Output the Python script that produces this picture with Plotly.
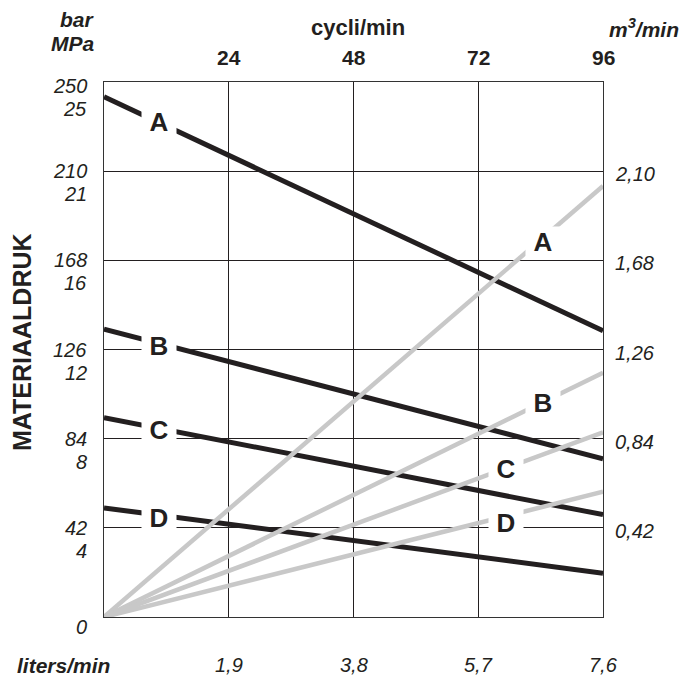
import plotly.graph_objects as go

# ---- data ----
cycles = [0, 96]                       # cycli/min
curves = ["A", "B", "C", "D"]
pressure_start = [245, 135.6, 93.9, 51.4]   # bar at 0 cycli/min
pressure_end = [134.8, 74.5, 48.2, 20.6]    # bar at 96 cycli/min
flow_end = [2.03, 1.15, 0.87, 0.59]         # m3/min at 96 cycli/min

cycle_ticks = [24, 48, 72, 96]
liters_labels = ["1,9", "3,8", "5,7", "7,6"]
bar_ticks = [42, 84, 126, 168, 210, 252]
bar_labels = ["42", "84", "126", "168", "210", "250"]
mpa_labels = ["4", "8", "12", "16", "21", "25"]
m3_ticks = [0.42, 0.84, 1.26, 1.68, 2.10]
m3_labels = ["0,42", "0,84", "1,26", "1,68", "2,10"]

# label positions (cycli/min, bar) for curve letters
pressure_label_x = [10.6, 10.6, 10.6, 10.6]
pressure_label_y = [233, 127.6, 87.9, 46.8]
flow_label_x = [84.4, 84.4, 77.3, 77.3]
flow_label_y = [176.7, 101, 69.5, 44.4]

BLACK = "#231f20"
GRAY = "#c8c8c8"
FONT = "Liberation Sans, Arial, Helvetica, sans-serif"

fig = go.Figure()

for i, c in enumerate(curves):
    fig.add_trace(go.Scatter(x=[0, 96], y=[0, flow_end[i]], mode="lines",
                             line=dict(color=GRAY, width=4.5), yaxis="y2",
                             showlegend=False, hoverinfo="skip"))
for i, c in enumerate(curves):
    fig.add_trace(go.Scatter(x=cycles, y=[pressure_start[i], pressure_end[i]], mode="lines",
                             line=dict(color=BLACK, width=5),
                             showlegend=False, hoverinfo="skip"))

ann = []
# curve letters
for i, c in enumerate(curves):
    for lx, ly in ((pressure_label_x[i], pressure_label_y[i]), (flow_label_x[i], flow_label_y[i])):
        ann.append(dict(x=lx, y=ly, xref="x", yref="y", text="<b>%s</b>" % c, showarrow=False,
                        font=dict(size=26, color=BLACK, family=FONT), bgcolor="white",
                        width=34, height=30, borderpad=0, xanchor="center", yanchor="middle"))

# left axis labels (bar / MPa)
for v, b, m in zip(bar_ticks, bar_labels, mpa_labels):
    yv = 250 if v == 252 else v
    ann.append(dict(x=0, y=yv, xref="x", yref="y", text="<i>%s</i>" % b, showarrow=False,
                    xanchor="right", yanchor="middle", xshift=-15,
                    font=dict(size=20, color=BLACK, family=FONT)))
    ann.append(dict(x=0, y=yv, xref="x", yref="y", text="<i>%s</i>" % m, showarrow=False,
                    xanchor="right", yanchor="middle", xshift=-15, yshift=-23,
                    font=dict(size=20, color=BLACK, family=FONT)))
ann.append(dict(x=0, y=0, xref="x", yref="y", text="<i>0</i>", showarrow=False,
                xanchor="right", yanchor="middle", xshift=-15, yshift=-10,
                font=dict(size=20, color=BLACK, family=FONT)))

# right axis labels (m3/min)
for v, t in zip(m3_ticks, m3_labels):
    ann.append(dict(x=96, y=v, xref="x", yref="y2", text="<i>%s</i>" % t, showarrow=False,
                    xanchor="left", yanchor="middle", xshift=10, yshift=-3,
                    font=dict(size=20, color=BLACK, family=FONT)))

# top axis labels (cycli/min)
for v in cycle_ticks:
    ann.append(dict(x=v, y=1, xref="x", yref="paper", text="<b>%d</b>" % v, showarrow=False,
                    xanchor="center", yanchor="middle", yshift=25,
                    font=dict(size=21, color=BLACK, family=FONT)))
# bottom labels (liters/min)
for v, t in zip(cycle_ticks, liters_labels):
    ann.append(dict(x=v, y=0, xref="x", yref="paper", text="<i>%s</i>" % t, showarrow=False,
                    xanchor="center", yanchor="middle", yshift=-48,
                    font=dict(size=20, color=BLACK, family=FONT)))

# titles: (text, x px, y px, xanchor, font size)
titles = [
    ("<b>cycli/min</b>", 358, 28, "center", 22, 0),
    ("<b><i>bar</i></b>", 97, 20, "right", 21, 0),
    ("<b><i>MPa</i></b>", 97, 43, "right", 21, 0),
    ("<b><i>m<sup>3</sup>/min</i></b>", 681, 28, "right", 21, 0),
    ("<b><i>liters/min</i></b>", 15, 665, "left", 21, 0),
    ("<b>MATERIAALDRUK</b>", 22, 342, "center", 25, -90),
]
W, H = 682, 677
L, R, T, B = 104, 79, 82, 60
pw, ph = W - L - R, H - T - B
for text, px, py, xa, fs, ang in titles:
    ann.append(dict(x=(px - L) / pw, y=(H - B - py) / ph, xref="paper", yref="paper",
                    text=text, showarrow=False, xanchor=xa, yanchor="middle", textangle=ang,
                    font=dict(size=fs, color=BLACK, family=FONT)))

fig.update_layout(
    width=W, height=H,
    margin=dict(l=L, r=R, t=T, b=B, pad=0),
    paper_bgcolor="white", plot_bgcolor="white",
    showlegend=False,
    xaxis=dict(range=[0, 96], tickvals=[24, 48, 72], showgrid=True, gridcolor=BLACK, gridwidth=1,
               showticklabels=False, ticks="", zeroline=False,
               showline=True, mirror=True, linecolor="#333333", linewidth=1),
    yaxis=dict(range=[0, 252], tickvals=[42, 84, 126, 168, 210], showgrid=True, gridcolor=BLACK, gridwidth=1,
               showticklabels=False, ticks="", zeroline=False,
               showline=True, mirror=True, linecolor="#333333", linewidth=1),
    yaxis2=dict(range=[0, 2.52], overlaying="y", side="right", showgrid=False,
                showticklabels=False, ticks="", zeroline=False, showline=False),
    annotations=ann,
)

fig.write_html("out.html", config={"displayModeBar": False},
               post_script="document.body.style.margin='0';document.body.style.overflow='hidden';")
